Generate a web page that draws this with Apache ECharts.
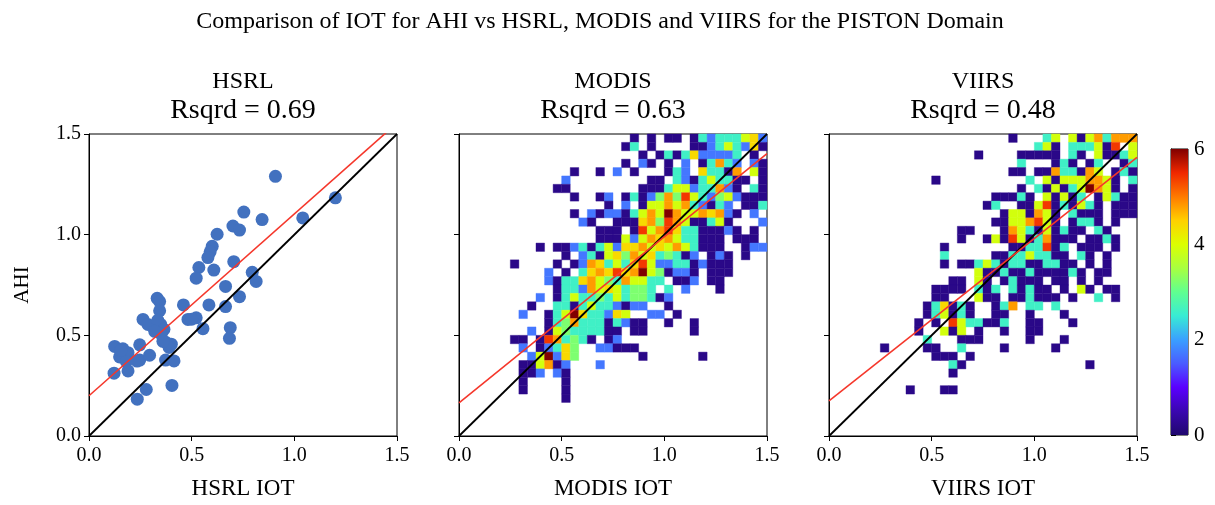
<!DOCTYPE html>
<html>
<head>
<meta charset="utf-8">
<script src="https://cdn.jsdelivr.net/npm/echarts@6/dist/echarts.min.js"></script>
<style>
  html, body { margin: 0; padding: 0; background: #ffffff; }
  #chart { width: 1215px; height: 505px; }
</style>
</head>
<body>
<div id="chart"></div>
<script>
// ---- data ----
const panelNames = ['HSRL', 'MODIS', 'VIIRS'];
const rsqrdText = ['0.69', '0.63', '0.48'];
const axisMin = 0;
const axisMax = 1.5;
const axisStep = 0.5;

// HSRL collocations (x: HSRL IOT, y: AHI IOT)
const hsrlIot = [0.908, 1.200, 1.041, 0.754, 0.843, 0.701, 0.733, 0.624, 0.600, 0.590,
  0.579, 0.608, 0.535, 0.522, 0.705, 0.795, 0.814, 0.665, 0.733, 0.584,
  0.460, 0.665, 0.332, 0.344, 0.344, 0.263, 0.287, 0.349, 0.335, 0.365,
  0.482, 0.522, 0.500, 0.555, 0.688, 0.684, 0.352, 0.373, 0.401, 0.390,
  0.247, 0.247, 0.295, 0.125, 0.165, 0.190, 0.149, 0.182, 0.190, 0.122,
  0.373, 0.414, 0.279, 0.235, 0.404, 0.234, 0.155, 0.320, 0.360];
const hsrlAhi = [1.290, 1.183, 1.083, 1.112, 1.075, 1.043, 1.023, 1.002, 0.942, 0.915,
  0.886, 0.824, 0.837, 0.784, 0.866, 0.813, 0.768, 0.743, 0.692, 0.651,
  0.651, 0.643, 0.684, 0.668, 0.622, 0.579, 0.554, 0.554, 0.575, 0.530,
  0.579, 0.587, 0.580, 0.533, 0.538, 0.485, 0.506, 0.466, 0.456, 0.440,
  0.453, 0.377, 0.401, 0.445, 0.433, 0.414, 0.393, 0.369, 0.323, 0.312,
  0.377, 0.373, 0.231, 0.183, 0.251, 0.372, 0.425, 0.520, 0.470];

// least-squares fit lines (AHI = slope * x + intercept)
const fitSlope = [0.903, 0.825, 0.806];
const fitIntercept = [0.200, 0.165, 0.175];

// 2-D histogram: 36 x 36 bins over 0..1.5
const binSize = 1.5 / 36;
// count value for each cell code '1'..'9'
const codeCounts = [0.2, 1.7, 2.6, 3.2, 3.9, 4.4, 4.8, 5.4, 6.0];

// rows from the top bin (AHI 1.5) downwards: [first column, codes], '.' = empty bin
const modisRows = [
  [20, '1.1.11.132333562'],
  [19, '13.1....112353261'],
  [21, '1.1313622223.1.'],
  [19, '1.21.1.2.13732.21'],
  [13, '1..1.2.1...132.63317.51'],
  [12, '2.........11.321353311.1'],
  [11, '11........111355233721.31'],
  [13, '1..12.13124748532452111'],
  [17, '1.2.15575732132.113'],
  [13, '1.212213575975576721.2.'],
  [14, '21..11167487511351...2'],
  [16, '111.1857863311121.1.'],
  [16, '111525767533111.111.'],
  [9, '1.11231352667565753111..122'],
  [12, '1.23156475634312.121.1..'],
  [6, '1....1.1276353685223312111....'],
  [10, '2.1.36768679541221.111....'],
  [10, '21336754375533.112.11.....'],
  [11, '133275653443.3.2...1.....'],
  [9, '2.13533435344312'],
  [8, '1..33135332122..1'],
  [7, '2..1359633265..22.1'],
  [10, '134733313211..1..1'],
  [8, '2.154333311.11.....1'],
  [6, '11.1873431.12'],
  [7, '2.12364..22111'],
  [8, '259264.......1......1'],
  [7, '115712...2'],
  [7, '112.21'],
  [7, '1....1'],
  [7, '1....1'],
  [12, '1'],
  [0, ''], [0, ''], [0, ''], [0, '']
];

const viirsRows = [
  [21, '1...35.51573777'],
  [24, '351.333518.5'],
  [17, '1....11111.31.51135'],
  [22, '3...131.13..13'],
  [21, '11.11733175.131'],
  [12, '1..........3.515557751.3'],
  [22, '1.3151359751.1'],
  [19, '11131.51513.15311'],
  [18, '13..1158131531.111'],
  [20, '1551751.3111.111'],
  [19, '11557851.1331.1..'],
  [15, '11...1753151311.31...'],
  [15, '1..15185137111.1131..'],
  [13, '1.......1133813.111.1..'],
  [13, '3.....113353311.31.1...'],
  [13, '1.11353133113311.1.1...'],
  [17, '5113113111131.11...'],
  [14, '11.51.13111.11.1.1....'],
  [12, '1111.313.31311.1.51.11..'],
  [12, '11...511.113111.1..3.1..'],
  [11, '136131..137.33.3'],
  [11, '135131..11..1...1'],
  [10, '1.1.8533113..11...1'],
  [10, '1..515.1..1..11'],
  [11, '3...111.....1...1'],
  [6, '1....11..3....1.....1'],
  [12, '111.1'],
  [14, '31..............1'],
  [14, '1'],
  [0, ''],
  [9, '1...11'],
  [0, ''], [0, ''], [0, ''], [0, ''], [0, '']
];

// colour bar
const colorbarMin = 0;
const colorbarMax = 6;
const colorbarStep = 2;
const cmapColors = ['#20086e', '#3a07b0', '#5a00ff', '#4a5cff', '#3aa0ff', '#38ecd4',
  '#60ff90', '#a8ff40', '#dcff00', '#ffd000', '#ff7a00', '#f02800', '#800000'];

// ---- layout ----
const FONT = 'Liberation Serif';
const plotLeft = [89, 459, 829];
const plotTop = 134;
const plotSize = 308;

function cellsFrom(rows) {
  const out = [];
  rows.forEach(function (row, r) {
    const start = row[0], codes = row[1];
    for (let i = 0; i < codes.length; i++) {
      const ch = codes[i];
      if (ch === '.') continue;
      const c = start + i;
      out.push([c * binSize, axisMax - (r + 1) * binSize, codeCounts[Number(ch) - 1]]);
    }
  });
  return out;
}

function renderCell(params, api) {
  const p0 = api.coord([api.value(0), api.value(1)]);
  const p1 = api.coord([api.value(0) + binSize, api.value(1) + binSize]);
  const color = api.visual('color');
  const shape = echarts.graphic.clipRectByRect({
    x: p0[0], y: p1[1], width: p1[0] - p0[0], height: p0[1] - p1[1]
  }, {
    x: params.coordSys.x, y: params.coordSys.y,
    width: params.coordSys.width, height: params.coordSys.height
  });
  if (!shape) return null;
  return {
    type: 'rect',
    shape: shape,
    style: { fill: color, stroke: color, lineWidth: 0.4 }
  };
}

function renderColorbar(params, api) {
  const p0 = api.coord([0, colorbarMin]);
  const p1 = api.coord([1, colorbarMax]);
  const stops = cmapColors.map(function (c, i) {
    return { offset: i / (cmapColors.length - 1), color: c };
  });
  return {
    type: 'rect',
    shape: { x: p0[0], y: p1[1], width: p1[0] - p0[0], height: p0[1] - p1[1] },
    style: { fill: new echarts.graphic.LinearGradient(0, 1, 0, 0, stops) }
  };
}

const grids = plotLeft.map(function (l) {
  return { left: l, top: plotTop, width: plotSize, height: plotSize,
    show: true, borderColor: '#000', borderWidth: 1, backgroundColor: 'transparent' };
});
grids.push({ left: 1171, top: 149, width: 17, height: 286,
  show: true, borderColor: '#000', borderWidth: 1, backgroundColor: 'transparent' });

const xAxes = [0, 1, 2].map(function (i) {
  return {
    gridIndex: i, type: 'value', min: axisMin, max: axisMax, interval: axisStep,
    name: panelNames[i] + ' IOT', nameLocation: 'middle', nameGap: 41,
    nameTextStyle: { fontFamily: FONT, fontSize: 23, color: '#000' },
    axisLine: { show: true, onZero: false, lineStyle: { color: '#000', width: 1 } },
    axisTick: { show: true, inside: false, length: 5, lineStyle: { color: '#000' } },
    axisLabel: { show: true, margin: 10, fontFamily: FONT, fontSize: 20, color: '#000',
      showMinLabel: true, showMaxLabel: true,
      formatter: function (v) { return v.toFixed(1); } },
    splitLine: { show: false }
  };
});
xAxes.push({ gridIndex: 3, type: 'value', min: 0, max: 1, show: false });

const yAxes = [0, 1, 2].map(function (i) {
  return {
    gridIndex: i, type: 'value', min: axisMin, max: axisMax, interval: axisStep,
    name: i === 0 ? 'AHI' : '', nameLocation: 'middle', nameGap: 56, nameRotate: 90,
    nameTextStyle: { fontFamily: FONT, fontSize: 21, color: '#000' },
    axisLine: { show: true, onZero: false, lineStyle: { color: '#000', width: 1 } },
    axisTick: { show: true, inside: false, length: 5, lineStyle: { color: '#000' } },
    axisLabel: { show: i === 0, margin: 8, fontFamily: FONT, fontSize: 20, color: '#000',
      showMinLabel: true, showMaxLabel: true,
      formatter: function (v) { return v.toFixed(1); } },
    splitLine: { show: false }
  };
});
yAxes.push({
  gridIndex: 3, type: 'value', position: 'right', min: colorbarMin, max: colorbarMax,
  interval: colorbarStep,
  axisLine: { show: true, lineStyle: { color: '#000', width: 1 } },
  axisTick: { show: true, inside: false, length: 5, lineStyle: { color: '#000' } },
  axisLabel: { show: true, margin: 6, fontFamily: FONT, fontSize: 21, color: '#000' },
  splitLine: { show: false }
});

function lineSeries(i, data, color, width) {
  return {
    type: 'line', xAxisIndex: i, yAxisIndex: i, data: data, symbol: 'none',
    clip: true, silent: true, animation: false, z: 5,
    lineStyle: { color: color, width: width }
  };
}
function oneToOne(i) { return lineSeries(i, [[axisMin, axisMin], [axisMax, axisMax]], '#000', 1.8); }
function fitLine(i) {
  return lineSeries(i, [[axisMin, fitIntercept[i] + fitSlope[i] * axisMin],
    [axisMax, fitIntercept[i] + fitSlope[i] * axisMax]], '#f5372b', 1.6);
}

const series = [
  {
    type: 'scatter', xAxisIndex: 0, yAxisIndex: 0, symbolSize: 13,
    data: hsrlIot.map(function (x, k) { return [x, hsrlAhi[k]]; }),
    itemStyle: { color: '#4271bf', opacity: 1 }, z: 3, animation: false
  },
  oneToOne(0), fitLine(0),
  {
    type: 'custom', xAxisIndex: 1, yAxisIndex: 1, renderItem: renderCell,
    data: cellsFrom(modisRows), encode: { x: 0, y: 1 }, z: 2, animation: false
  },
  oneToOne(1), fitLine(1),
  {
    type: 'custom', xAxisIndex: 2, yAxisIndex: 2, renderItem: renderCell,
    data: cellsFrom(viirsRows), encode: { x: 0, y: 1 }, z: 2, animation: false
  },
  oneToOne(2), fitLine(2),
  {
    type: 'custom', xAxisIndex: 3, yAxisIndex: 3, renderItem: renderColorbar,
    data: [[0, colorbarMin]], z: 2, animation: false, silent: true
  }
];

const panelCenters = plotLeft.map(function (l) { return l + plotSize / 2; });
const titleGraphics = [{
  type: 'text', x: 600, y: 22,
  style: { text: 'Comparison of IOT for AHI vs HSRL, MODIS and VIIRS for the PISTON Domain',
    fontFamily: FONT, fontSize: 24, fill: '#000', align: 'center', verticalAlign: 'middle' }
}];
panelCenters.forEach(function (cx, i) {
  titleGraphics.push({
    type: 'text', x: cx, y: 82,
    style: { text: panelNames[i], fontFamily: FONT, fontSize: 24, fill: '#000',
      align: 'center', verticalAlign: 'middle' }
  });
  titleGraphics.push({
    type: 'text', x: cx, y: 111,
    style: { text: 'Rsqrd = ' + rsqrdText[i], fontFamily: FONT, fontSize: 28, fill: '#000',
      align: 'center', verticalAlign: 'middle' }
  });
});

const chart = echarts.init(document.getElementById('chart'), null, { renderer: 'canvas' });
chart.setOption({
  animation: false,
  backgroundColor: '#ffffff',
  grid: grids,
  xAxis: xAxes,
  yAxis: yAxes,
  visualMap: {
    show: false, type: 'continuous', min: colorbarMin, max: colorbarMax,
    dimension: 2, seriesIndex: [3, 6], inRange: { color: cmapColors }
  },
  graphic: titleGraphics,
  series: series
});
</script>
</body>
</html>
